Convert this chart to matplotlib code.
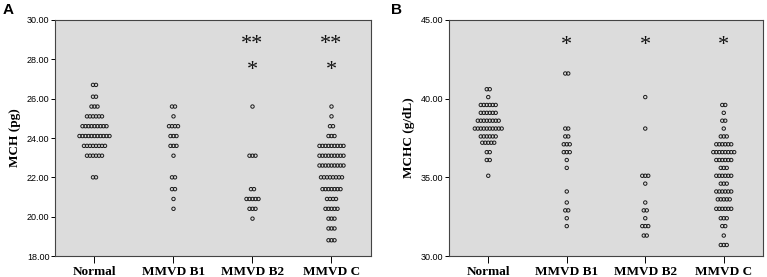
import matplotlib
matplotlib.use("Agg")
import matplotlib.pyplot as plt
import numpy as np

groups = ["Normal", "MMVD B1", "MMVD B2", "MMVD C"]

# MCH (pg): row values and number of dogs in each row
mch_vals = [
    [26.7, 26.1, 25.6, 25.1, 24.6, 24.1, 23.6, 23.1, 22.0],
    [25.6, 25.1, 24.6, 24.1, 23.6, 23.1, 22.0, 21.4, 20.9, 20.4],
    [25.6, 23.1, 21.4, 20.9, 20.4, 19.9],
    [25.6, 25.1, 24.6, 24.1, 23.6, 23.1, 22.6, 22.0, 21.4, 20.9, 20.4, 19.9, 19.4, 18.8],
]
mch_counts = [
    [2, 2, 3, 6, 9, 11, 8, 6, 2],
    [2, 1, 4, 3, 3, 1, 2, 2, 1, 1],
    [1, 3, 2, 5, 3, 1],
    [1, 1, 2, 3, 9, 9, 9, 8, 7, 4, 5, 3, 3, 3],
]

# MCHC (g/dL)
mchc_vals = [
    [40.6, 40.1, 39.6, 39.1, 38.6, 38.1, 37.6, 37.2, 36.6, 36.1, 35.1],
    [41.6, 38.1, 37.6, 37.1, 36.6, 36.1, 35.6, 34.1, 33.4, 32.9, 32.4, 31.9],
    [40.1, 38.1, 35.1, 34.6, 33.4, 32.9, 32.4, 31.9, 31.3],
    [39.6, 39.1, 38.6, 38.1, 37.6, 37.1, 36.6, 36.1, 35.6, 35.1, 34.6, 34.1,
     33.6, 33.0, 32.4, 31.9, 31.3, 30.7],
]
mchc_counts = [
    [2, 1, 6, 6, 8, 10, 6, 5, 2, 2, 1],
    [2, 2, 2, 3, 3, 1, 1, 1, 1, 2, 1, 1],
    [1, 1, 3, 1, 1, 2, 1, 3, 2],
    [2, 1, 2, 1, 3, 6, 8, 6, 3, 6, 3, 6, 5, 6, 3, 2, 1, 3],
]

# significance marks: (group index, text, y)
mch_marks = [(2, "**", 28.75), (2, "*", 27.45), (3, "**", 28.75), (3, "*", 27.45)]
mchc_marks = [(1, "*", 43.35), (2, "*", 43.35), (3, "*", 43.35)]

serif = "Liberation Serif"
sans = "Liberation Sans"
dot_step = 0.038  # horizontal spacing of stacked dots, in category units


def dot_panel(ax, vals, counts, marks, ylim, yticks, ylabel):
    ax.set_facecolor("#dcdcdc")
    for g, (v, c) in enumerate(zip(vals, counts)):
        for y, n in zip(v, c):
            xs = g + 1 + (np.arange(n) - (n - 1) / 2) * dot_step
            ax.scatter(xs, np.full(n, y), s=6, facecolors="none",
                       edgecolors="#1a1a1a", linewidths=0.7, zorder=3)
    for g, txt, y in marks:
        ax.text(g + 1, y, txt, ha="center", va="center", fontsize=16,
                family=serif, color="#111111")
    ax.set_xlim(0.5, 4.5)
    ax.set_ylim(*ylim)
    ax.set_yticks(yticks)
    ax.set_yticklabels(["%.2f" % t for t in yticks], family=sans, fontsize=6.5)
    ax.set_xticks(range(1, 5))
    ax.set_xticklabels(groups, family=serif, fontsize=9.5, fontweight="bold")
    ax.tick_params(axis="y", length=3, width=0.7, pad=1)
    ax.tick_params(axis="x", length=5, width=0.7, pad=2)
    ax.set_ylabel(ylabel, family=serif, fontsize=9.5, fontweight="bold", labelpad=4)
    for sp in ax.spines.values():
        sp.set_color("#444444")
        sp.set_linewidth(0.8)


fig = plt.figure(figsize=(7.67, 2.77), dpi=100)
ax1 = fig.add_axes([0.0717, 0.0758, 0.412, 0.852])
ax2 = fig.add_axes([0.5854, 0.0758, 0.4094, 0.852])

dot_panel(ax1, mch_vals, mch_counts, mch_marks, (18, 30),
          np.arange(18, 31, 2), "MCH (pg)")
dot_panel(ax2, mchc_vals, mchc_counts, mchc_marks, (30, 45),
          np.arange(30, 46, 5), "MCHC (g/dL)")

fig.text(8 / 767, 1 - 10 / 277, "A", family=sans, fontsize=11,
         fontweight="bold", ha="center", va="center")
fig.text(396 / 767, 1 - 10 / 277, "B", family=sans, fontsize=11,
         fontweight="bold", ha="center", va="center")

fig.savefig("out.png", dpi=100)
